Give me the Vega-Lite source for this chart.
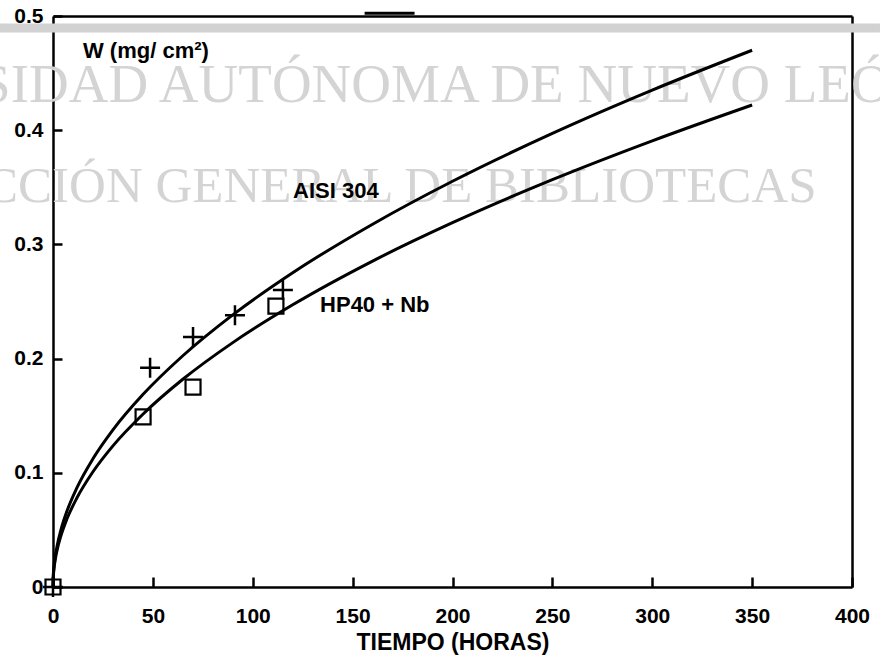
{
  "$schema": "https://vega.github.io/schema/vega-lite/v6.json",
  "width": 799,
  "height": 571,
  "autosize": "none",
  "padding": {"left": 53, "top": 16, "right": 28, "bottom": 75},
  "background": "white",
  "config": {
    "view": {"stroke": null},
    "font": "Liberation Sans",
    "axis": {"grid": false, "zindex": 1, "domainColor": "#000000", "domainWidth": 2.5, "tickColor": "#000000", "tickWidth": 2.5, "labelColor": "#000000", "titleColor": "#000000"}
  },
  "datasets": {
    "curves": [
      {"series": "AISI 304", "t": 0, "w": 0},
      {"series": "AISI 304", "t": 0.1, "w": 0.0079},
      {"series": "AISI 304", "t": 0.5, "w": 0.0178},
      {"series": "AISI 304", "t": 1, "w": 0.0251},
      {"series": "AISI 304", "t": 2, "w": 0.0355},
      {"series": "AISI 304", "t": 4, "w": 0.0502},
      {"series": "AISI 304", "t": 7, "w": 0.0665},
      {"series": "AISI 304", "t": 12, "w": 0.087},
      {"series": "AISI 304", "t": 20, "w": 0.1123},
      {"series": "AISI 304", "t": 30, "w": 0.1376},
      {"series": "AISI 304", "t": 45, "w": 0.1685},
      {"series": "AISI 304", "t": 65, "w": 0.2025},
      {"series": "AISI 304", "t": 90, "w": 0.2383},
      {"series": "AISI 304", "t": 120, "w": 0.2752},
      {"series": "AISI 304", "t": 160, "w": 0.3177},
      {"series": "AISI 304", "t": 200, "w": 0.3553},
      {"series": "AISI 304", "t": 250, "w": 0.3972},
      {"series": "AISI 304", "t": 300, "w": 0.4351},
      {"series": "AISI 304", "t": 350, "w": 0.47},
      {"series": "HP40 + Nb", "t": 0, "w": 0},
      {"series": "HP40 + Nb", "t": 0.1, "w": 0.0071},
      {"series": "HP40 + Nb", "t": 0.5, "w": 0.016},
      {"series": "HP40 + Nb", "t": 1, "w": 0.0226},
      {"series": "HP40 + Nb", "t": 2, "w": 0.0319},
      {"series": "HP40 + Nb", "t": 4, "w": 0.0451},
      {"series": "HP40 + Nb", "t": 7, "w": 0.0597},
      {"series": "HP40 + Nb", "t": 12, "w": 0.0781},
      {"series": "HP40 + Nb", "t": 20, "w": 0.1009},
      {"series": "HP40 + Nb", "t": 30, "w": 0.1236},
      {"series": "HP40 + Nb", "t": 45, "w": 0.1513},
      {"series": "HP40 + Nb", "t": 65, "w": 0.1819},
      {"series": "HP40 + Nb", "t": 90, "w": 0.214},
      {"series": "HP40 + Nb", "t": 120, "w": 0.2471},
      {"series": "HP40 + Nb", "t": 160, "w": 0.2854},
      {"series": "HP40 + Nb", "t": 200, "w": 0.319},
      {"series": "HP40 + Nb", "t": 250, "w": 0.3567},
      {"series": "HP40 + Nb", "t": 300, "w": 0.3907},
      {"series": "HP40 + Nb", "t": 350, "w": 0.4221}
    ],
    "crosses": [
      {"series": "AISI 304", "t": 0, "w": 0},
      {"series": "AISI 304", "t": 48.6, "w": 0.192},
      {"series": "AISI 304", "t": 70.1, "w": 0.219},
      {"series": "AISI 304", "t": 91.1, "w": 0.238},
      {"series": "AISI 304", "t": 115.1, "w": 0.26}
    ],
    "squares": [
      {"series": "HP40 + Nb", "t": 0, "w": 0},
      {"series": "HP40 + Nb", "t": 45.1, "w": 0.149},
      {"series": "HP40 + Nb", "t": 70.1, "w": 0.175},
      {"series": "HP40 + Nb", "t": 111.6, "w": 0.246}
    ],
    "labels": [
      {"t": 15, "w": 0.463, "text": "W (mg/ cm²)"},
      {"t": 120.2, "w": 0.3406, "text": "AISI 304"},
      {"t": 133.7, "w": 0.2408, "text": "HP40 + Nb"}
    ],
    "watermark": [
      {"t": -36.5, "w": 0.4247, "size": "big", "text": "SIDAD AUTÓNOMA DE NUEVO LEÓN"},
      {"t": -34.5, "w": 0.337, "size": "small", "text": "CCIÓN GENERAL DE BIBLIOTECAS"}
    ],
    "band": [{"t": -27, "t2": 414, "w": 0.4895}],
    "artifact": [{"t": 156, "t2": 181, "w": 0.5025}]
  },
  "layer": [
    {
      "data": {"name": "band"},
      "mark": {"type": "rule", "color": "#d2d2d2", "strokeWidth": 9},
      "encoding": {
        "x": {"field": "t", "type": "quantitative", "scale": {"domain": [0, 400], "nice": false},
              "axis": {"orient": "top", "ticks": false, "labels": false, "title": null}},
        "x2": {"field": "t2"},
        "y": {"field": "w", "type": "quantitative", "scale": {"domain": [0, 0.5], "nice": false},
              "axis": {"orient": "right", "ticks": false, "labels": false, "title": null}}
      }
    },
    {
      "data": {"name": "watermark"},
      "mark": {"type": "text", "font": "Liberation Serif", "color": "#d4d4d4", "align": "left", "baseline": "alphabetic"},
      "encoding": {
        "x": {"field": "t", "type": "quantitative", "scale": {"domain": [0, 400], "nice": false}, "axis": null},
        "y": {"field": "w", "type": "quantitative", "scale": {"domain": [0, 0.5], "nice": false}, "axis": null},
        "text": {"field": "text"},
        "size": {"field": "size", "type": "nominal", "scale": {"domain": ["big", "small"], "range": [55, 51]}, "legend": null}
      }
    },
    {
      "data": {"name": "artifact"},
      "mark": {"type": "rule", "color": "#000000", "strokeWidth": 3},
      "encoding": {
        "x": {"field": "t", "type": "quantitative", "scale": {"domain": [0, 400], "nice": false}, "axis": null},
        "x2": {"field": "t2"},
        "y": {"field": "w", "type": "quantitative", "scale": {"domain": [0, 0.5], "nice": false}, "axis": null}
      }
    },
    {
      "data": {"name": "curves"},
      "mark": {"type": "line", "color": "#000000", "strokeWidth": 3, "interpolate": "monotone"},
      "encoding": {
        "x": {"field": "t", "type": "quantitative", "scale": {"domain": [0, 400], "nice": false},
              "axis": {"orient": "bottom", "values": [0, 50, 100, 150, 200, 250, 300, 350, 400], "format": "d",
                       "tickSize": -10, "labelPadding": 28, "labelFontSize": 21, "labelFontWeight": "bold",
                       "labelFlush": false, "labelOverlap": false,
                       "title": "TIEMPO (HORAS)", "titleFontSize": 23, "titleFontWeight": "bold", "titlePadding": 5}},
        "y": {"field": "w", "type": "quantitative", "scale": {"domain": [0, 0.5], "nice": false},
              "axis": {"orient": "left", "values": [0, 0.1, 0.2, 0.3, 0.4, 0.5], "format": ".1~f",
                       "tickSize": -9, "labelPadding": 19, "labelFontSize": 21, "labelFontWeight": "bold",
                       "labelFlush": false, "labelOverlap": false, "title": null}},
        "detail": {"field": "series"}
      }
    },
    {
      "data": {"name": "crosses"},
      "mark": {"type": "point", "shape": "M-1,0L1,0M0,-1L0,1", "size": 400, "filled": false, "color": "#000000", "strokeWidth": 2.5, "opacity": 1},
      "encoding": {
        "x": {"field": "t", "type": "quantitative", "scale": {"domain": [0, 400], "nice": false}, "axis": null},
        "y": {"field": "w", "type": "quantitative", "scale": {"domain": [0, 0.5], "nice": false}, "axis": null}
      }
    },
    {
      "data": {"name": "squares"},
      "mark": {"type": "point", "shape": "square", "size": 225, "filled": false, "color": "#000000", "strokeWidth": 2.2, "opacity": 1},
      "encoding": {
        "x": {"field": "t", "type": "quantitative", "scale": {"domain": [0, 400], "nice": false}, "axis": null},
        "y": {"field": "w", "type": "quantitative", "scale": {"domain": [0, 0.5], "nice": false}, "axis": null}
      }
    },
    {
      "data": {"name": "labels"},
      "mark": {"type": "text", "align": "left", "baseline": "alphabetic", "fontSize": 22, "fontWeight": "bold", "color": "#000000"},
      "encoding": {
        "x": {"field": "t", "type": "quantitative", "scale": {"domain": [0, 400], "nice": false}, "axis": null},
        "y": {"field": "w", "type": "quantitative", "scale": {"domain": [0, 0.5], "nice": false}, "axis": null},
        "text": {"field": "text"}
      }
    }
  ],
  "resolve": {"axis": {"x": "independent", "y": "independent"}}
}
